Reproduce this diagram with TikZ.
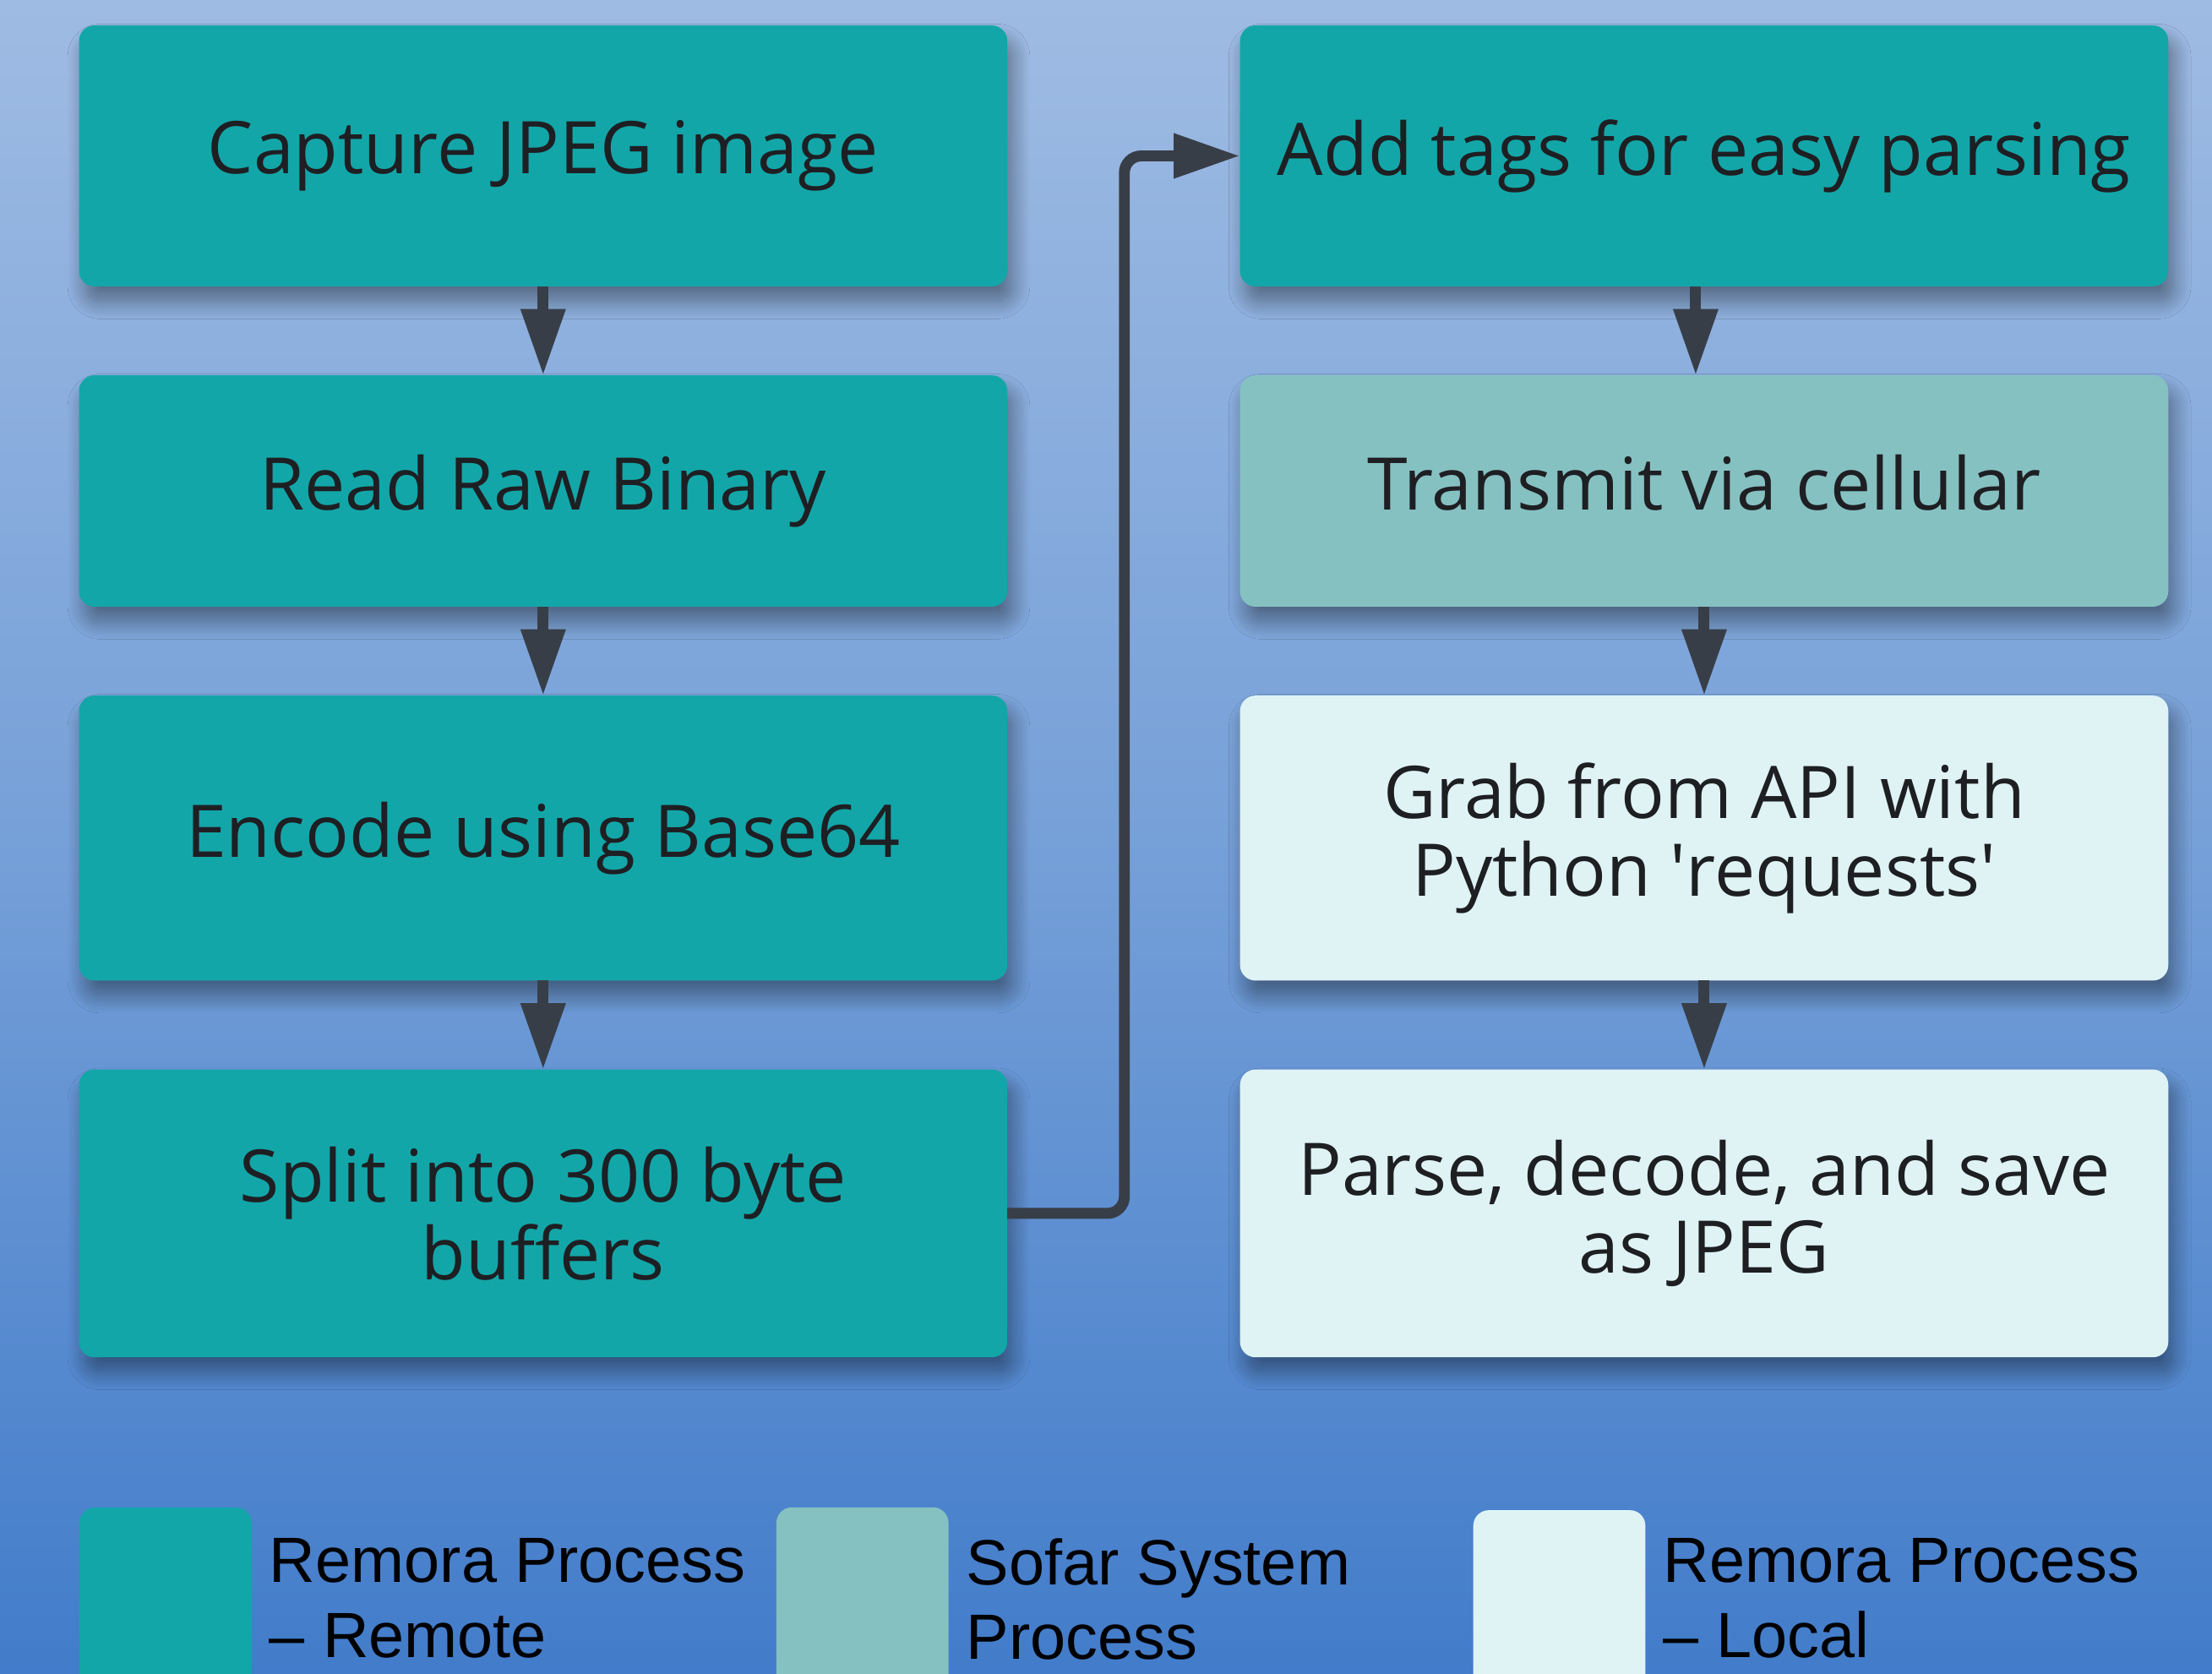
\documentclass[tikz,border=0pt]{standalone}
\usepackage{fontspec}
\setmainfont{Open Sans}
\newfontfamily\keyfont{Liberation Sans}
\usepackage{tikz}
\usetikzlibrary{arrows.meta,positioning,shadows.blur}

\definecolor{skytop}{RGB}{158,187,227}
\definecolor{skymid}{RGB}{118,160,216}
\definecolor{skybot}{RGB}{66,124,202}
\definecolor{remote}{RGB}{19,166,168}
\definecolor{sofar}{RGB}{134,193,194}
\definecolor{local}{RGB}{223,243,245}
\definecolor{inkdark}{RGB}{30,31,35}
\definecolor{flowgray}{RGB}{56,62,72}

\begin{document}
\begin{tikzpicture}[
  proc/.style={rectangle, rounded corners=0.22cm, inner sep=0pt, outer sep=0pt,
    minimum width=13.16cm, align=center, text=inkdark,
    font=\fontsize{29.3}{31.3}\selectfont,
    blur shadow={shadow xshift=0.08cm, shadow yshift=-0.22cm,
      shadow blur radius=0.24cm, shadow blur steps=16, shadow opacity=40}},
  remotebox/.style={proc, fill=remote},
  sofarbox/.style={proc, fill=sofar},
  localbox/.style={proc, fill=local},
  keybox/.style={rectangle, rounded corners=0.22cm, inner sep=0pt,
    minimum width=2.44cm, minimum height=4cm, anchor=north west},
  keytext/.style={anchor=north west, inner sep=0pt, align=left,
    font=\keyfont\fontsize{25.8}{30.2}\selectfont},
  flow/.style={draw=flowgray, line width=0.155cm,
    -{Triangle[width=0.6cm,length=0.94cm]}},
  node distance=1.26cm and 3.3cm
]
\useasboundingbox (0,0) rectangle (31.36,-23.72);
\clip (0,0) rectangle (31.36,-23.72);
\fill[top color=skytop, bottom color=skybot, middle color=skymid]
  (0,0) rectangle (31.36,-23.72);

% remote side
\node[remotebox, minimum height=3.70cm] (capture) at (7.70,-2.21) {Capture JPEG image};
\node[remotebox, minimum height=3.28cm, below=of capture] (readraw) {Read Raw Binary};
\node[remotebox, minimum height=4.04cm, below=of readraw] (encode) {Encode using Base64};
\node[remotebox, minimum height=4.08cm, below=of encode] (split) {Split into 300 byte\\buffers};

% transmit and local side
\node[remotebox, minimum height=3.70cm, right=of capture] (tags) {Add tags for easy parsing};
\node[sofarbox, minimum height=3.28cm, below=of tags] (transmit) {Transmit via cellular\vphantom{g}};
\node[localbox, minimum height=4.04cm, below=of transmit] (grab)
  {Grab from API with\\Python \textquotesingle requests\textquotesingle};
\node[localbox, minimum height=4.08cm, below=of grab] (parse) {Parse, decode, and save\\as JPEG};

\foreach \a/\b in {capture/readraw, readraw/encode, encode/split,
                   transmit/grab, grab/parse}
  \draw[flow] (\a) -- (\b);
\draw[flow] ([xshift=-0.12cm]tags.south) -- ([xshift=-0.12cm]transmit.north);
\draw[flow, rounded corners=0.24cm] (split.east) -- ++(1.66,0) |- (tags.west);

% legend
\node[keybox, fill=remote] (keyremote) at (1.12,-21.36) {};
\node[keybox, fill=sofar] (keysofar) at (11.00,-21.36) {};
\node[keybox, fill=local] (keylocal) at (20.88,-21.40) {};
\node[keytext] (remotelabel) at ([xshift=0.24cm, yshift=-0.44cm]keyremote.north east)
  {Remora Process\\– Remote};
\node[keytext] (sofarlabel) at ([xshift=0.24cm, yshift=-0.44cm]keysofar.north east)
  {Sofar System\\Process};
\node[keytext] (locallabel) at ([xshift=0.24cm, yshift=-0.40cm]keylocal.north east)
  {Remora Process\\– Local};
\end{tikzpicture}
\end{document}
